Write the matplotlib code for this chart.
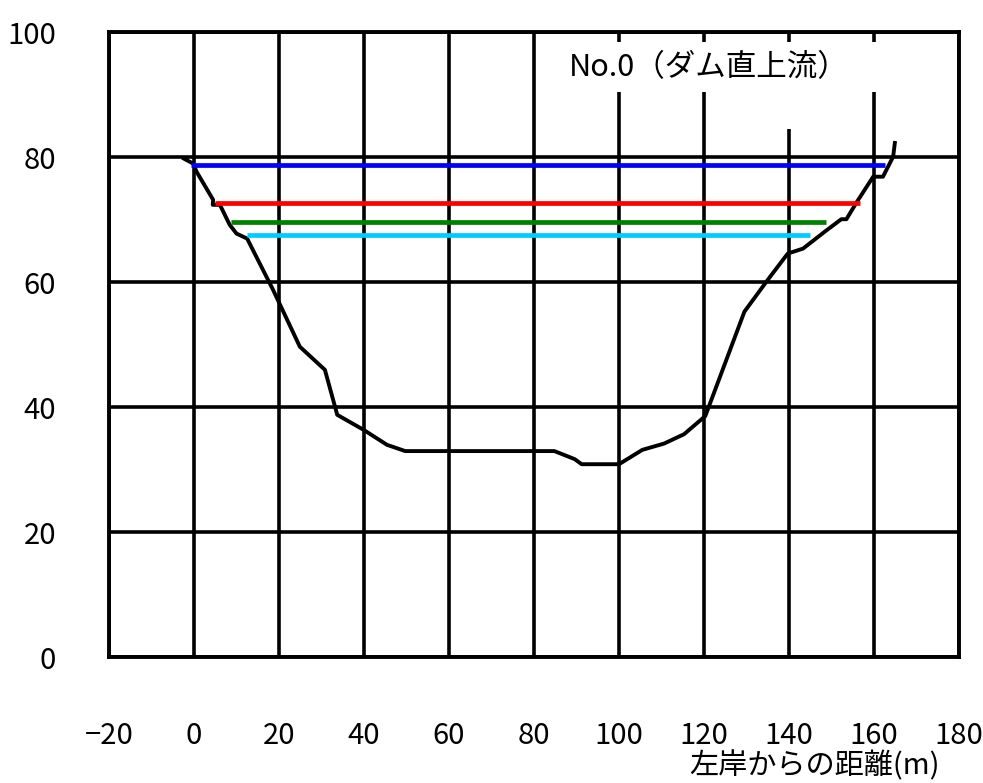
import matplotlib
matplotlib.use("Agg")
import matplotlib.pyplot as plt
from matplotlib.patches import Rectangle

plt.rcParams['font.family'] = ['Noto Sans CJK JP', 'DejaVu Sans']

# 河床断面 (左岸からの距離, 標高)
dist = [-2.4, -0.2, 0.6, 4.5, 4.4, 6.1, 8.4, 10.0, 12.5, 18.6, 24.9, 30.8, 33.7,
        39.9, 45.4, 49.7, 84.8, 89.6, 91.2, 100.0, 105.5, 110.6, 115.3, 120.3,
        129.5, 135.0, 139.7, 143.3, 148.4, 152.3, 153.5, 156.0, 159.8, 162.1,
        164.5, 164.9]
elev = [79.8, 79.0, 77.7, 73.2, 72.4, 72.4, 69.2, 67.8, 67.0, 58.8, 49.7, 46.0, 38.8,
        36.4, 34.0, 33.0, 33.0, 31.7, 30.9, 30.9, 33.2, 34.2, 35.7, 38.6,
        55.3, 60.4, 64.6, 65.4, 68.1, 70.1, 70.1, 72.9, 76.9, 76.9,
        80.1, 82.3]

# 水位線
wl_levels = [78.7, 72.7, 69.7, 67.6]
wl_start = [-0.6, 4.9, 8.7, 12.5]
wl_end = [162.5, 156.8, 148.8, 145.0]
wl_colors = ['#0000FF', '#FF0000', '#008000', '#00CCFF']

xticks = list(range(-20, 181, 20))
yticks = list(range(0, 101, 20))

fig = plt.figure(figsize=(9.83, 7.83), dpi=100)
ax = fig.add_axes([0.1109, 0.1605, 0.8647, 0.7982])

ax.set_xlim(-20, 180)
ax.set_ylim(0, 100)
ax.set_xticks(xticks)
ax.set_yticks(yticks)
ax.grid(True, color='black', linewidth=2.6)
ax.set_axisbelow(True)
ax.tick_params(length=0, labelsize=21)
ax.tick_params(axis='x', pad=46)
ax.tick_params(axis='y', pad=38)
for sp in ax.spines.values():
    sp.set_linewidth(2.8)
    sp.set_zorder(5)

# 凡例ラベル部分の白抜き
ax.add_patch(Rectangle((86, 90.4), 76, 8.0, facecolor='white', edgecolor='none', zorder=2))
ax.add_patch(Rectangle((138, 84.6), 4, 6.0, facecolor='white', edgecolor='none', zorder=2))
ax.text(88.2, 94.3, 'No.0（ダム直上流）', fontsize=22, va='center', ha='left', zorder=3)

ax.plot(dist, elev, color='black', linewidth=2.8, zorder=3)
for lv, x0, x1, c in zip(wl_levels, wl_start, wl_end, wl_colors):
    ax.plot([x0, x1], [lv, lv], color=c, linewidth=3.4, solid_capstyle='butt', zorder=4)

fig.text(0.956, 0.021, '左岸からの距離(m)', fontsize=21, ha='right', va='center')

fig.savefig('out.png', dpi=100)
